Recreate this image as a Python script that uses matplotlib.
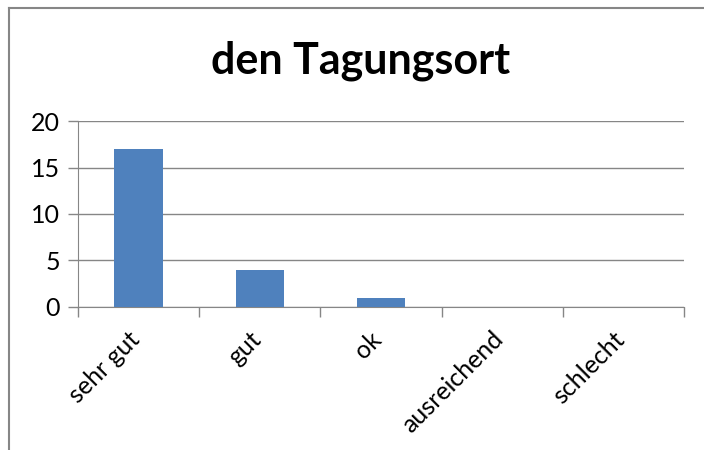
import matplotlib.pyplot as plt
from matplotlib.lines import Line2D
import matplotlib.transforms as mtransforms
import numpy as np

categories = ["sehr gut", "gut", "ok", "ausreichend", "schlecht"]
values = [17, 4, 1, 0, 0]
title = "den Tagungsort"

plt.rcParams['font.family'] = ['Lato', 'DejaVu Sans']

fig = plt.figure(figsize=(7.04, 4.5), dpi=100)
ax = fig.add_axes([0.1108, 0.3178, 0.8608, 0.4133])

x = np.arange(len(categories))
ax.bar(x, values, width=0.4, color="#4F81BD", zorder=3)

ax.set_xlim(-0.5, len(categories) - 0.5)
ax.set_ylim(0, 20)
ax.set_yticks([0, 5, 10, 15, 20])
ax.yaxis.grid(True, color="#868686", linewidth=1)
ax.set_axisbelow(True)

ax.set_xticks(x)
ax.set_xticklabels(categories, rotation=45, ha="right", va="top",
                   rotation_mode="anchor", fontsize=18)
ax.tick_params(axis="x", length=0, pad=11)
ax.set_xticks(np.arange(-0.5, len(categories)), minor=True)
ax.tick_params(axis="x", which="minor", length=7, color="#868686", width=1)
ax.tick_params(axis="y", length=7, color="#868686", width=1, labelsize=18, pad=6)

# nudge the rotated labels so their ends sit just right of the category centre
shift = mtransforms.ScaledTranslation(-11 / 100, -5 / 100, fig.dpi_scale_trans)
for lbl in ax.get_xticklabels():
    lbl.set_transform(lbl.get_transform() + shift)

for s in ["top", "right"]:
    ax.spines[s].set_visible(False)
for s in ["left", "bottom"]:
    ax.spines[s].set_color("#868686")

fig.text(0.512, 0.866, title, ha="center", va="center", fontsize=31, fontweight="bold")

fig.add_artist(Line2D([0.0128, 0.0128], [0.0, 0.982], transform=fig.transFigure,
                      color="#868686", linewidth=1.5))
fig.add_artist(Line2D([0.0128, 1.0], [0.982, 0.982], transform=fig.transFigure,
                      color="#868686", linewidth=1.5))

fig.savefig("out.png", dpi=100)
